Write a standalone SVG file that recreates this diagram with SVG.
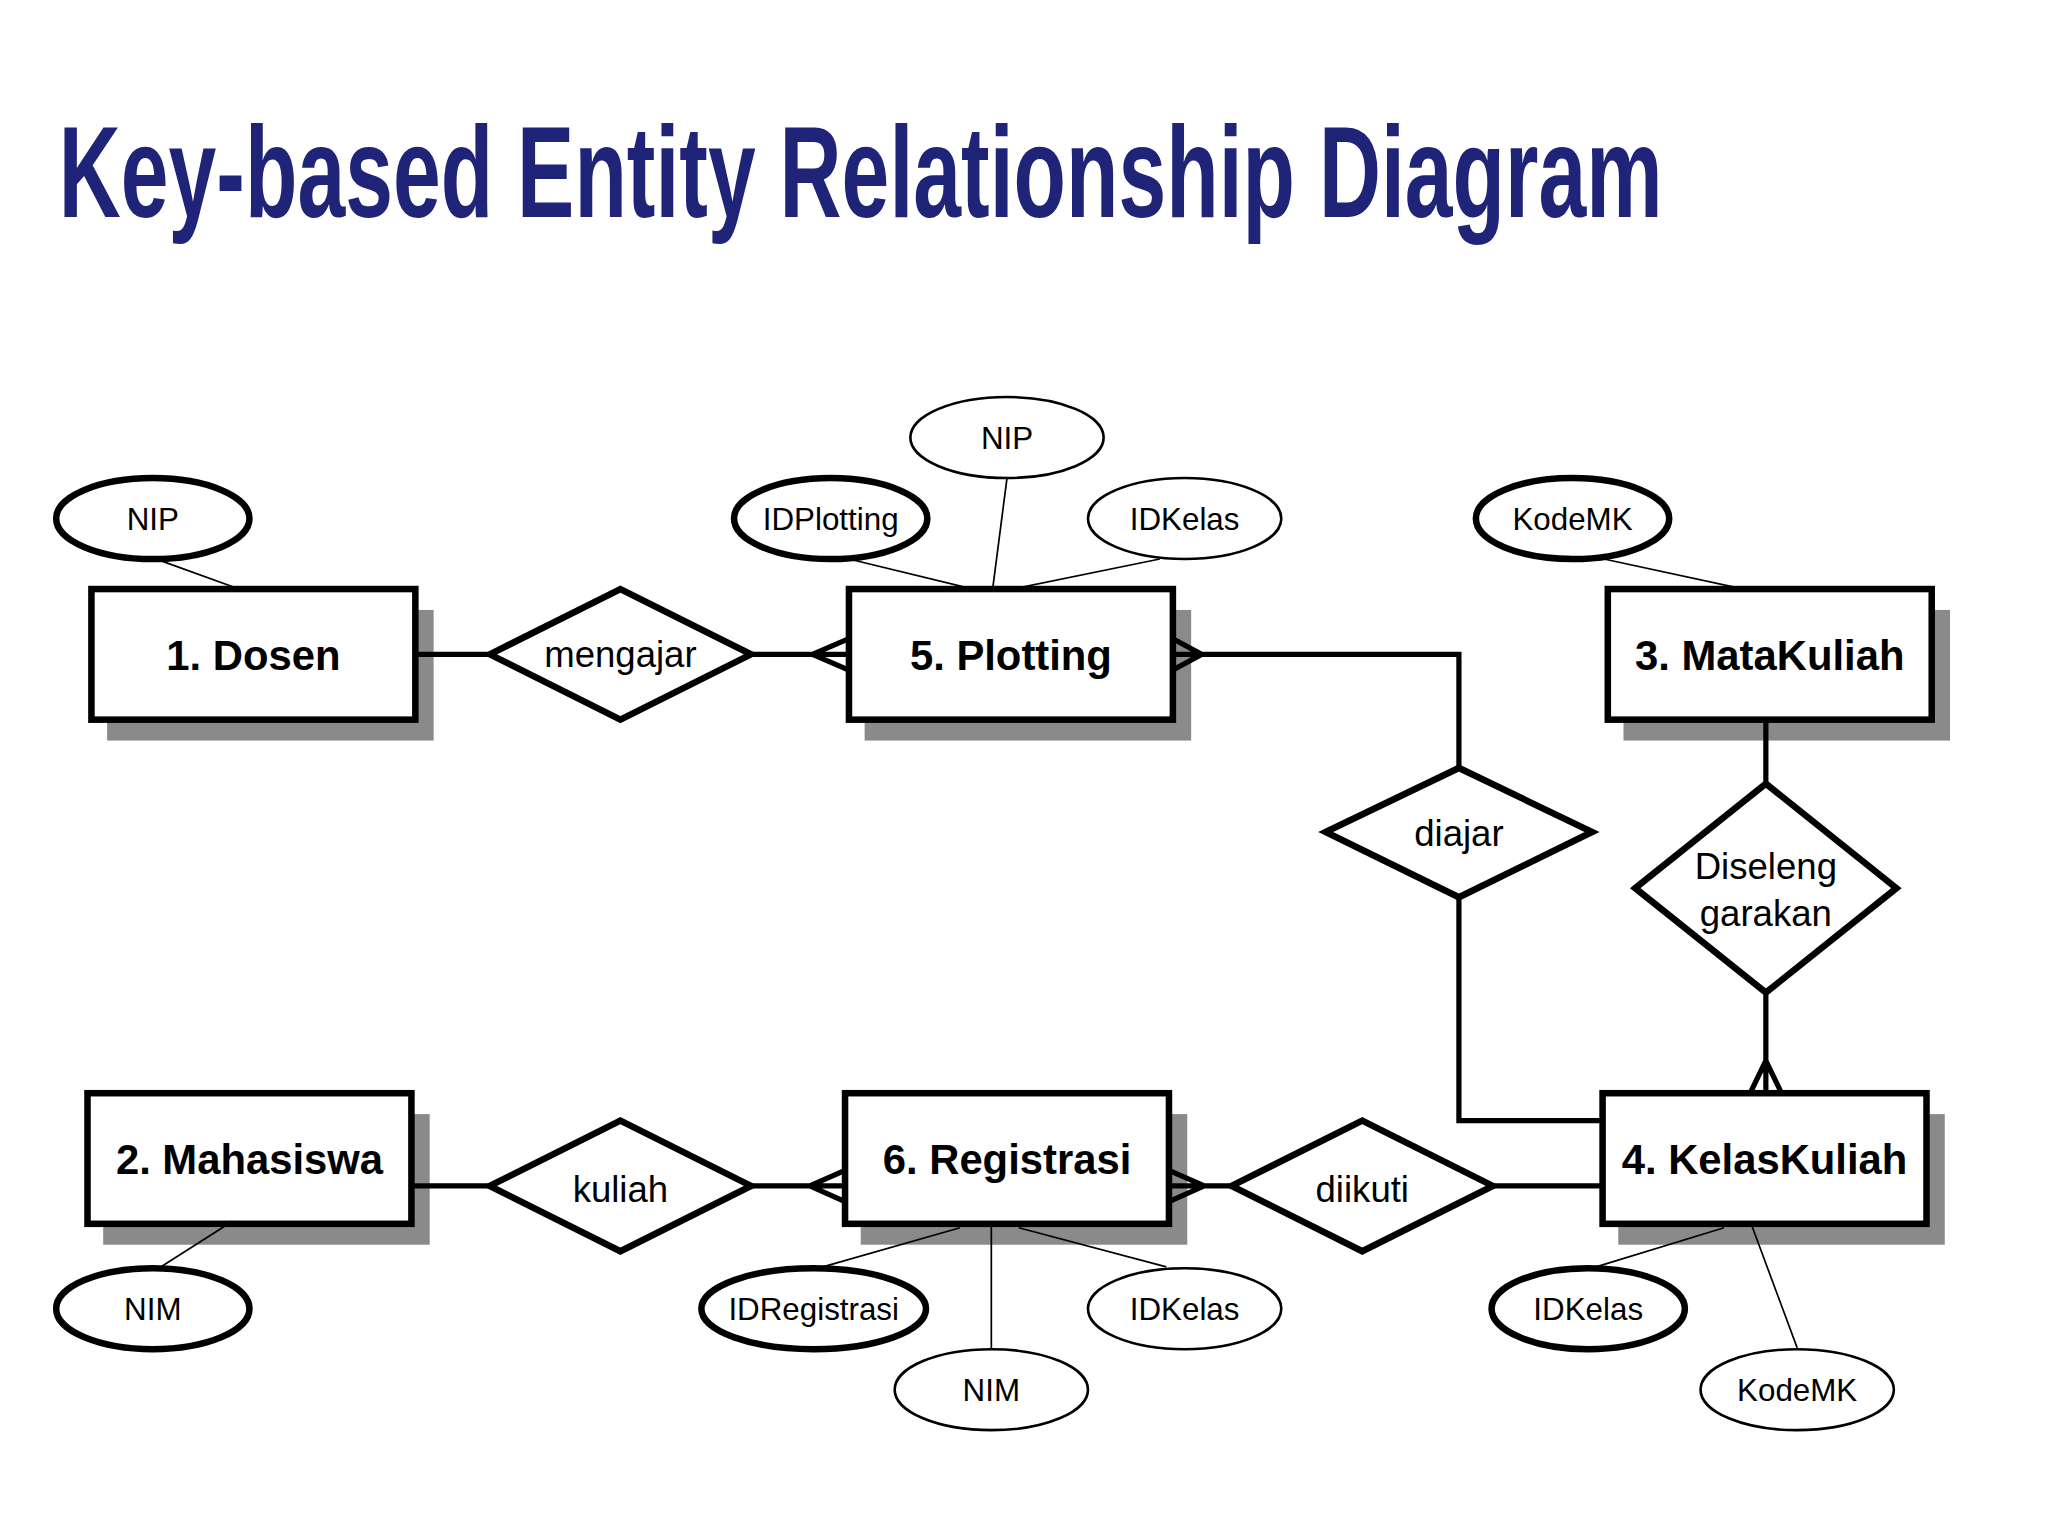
<svg xmlns="http://www.w3.org/2000/svg" width="2048" height="1536" viewBox="0 0 2048 1536">
<style>
.ent{fill:#fff;stroke:#000;stroke-width:5}
.sh{fill:#8a8a8a}
.et{font-family:"Liberation Sans",Arial,sans-serif;font-weight:bold;font-size:32px;text-anchor:middle}
.rel{fill:#fff;stroke:#000;stroke-width:5}
.rt{font-family:"Liberation Sans",Arial,sans-serif;font-size:28px;text-anchor:middle}
.at{font-family:"Liberation Sans",Arial,sans-serif;font-size:24px;text-anchor:middle}
.key{fill:#fff;stroke:#000;stroke-width:5}
.att{fill:#fff;stroke:#000;stroke-width:2}
.c{fill:none;stroke:#000;stroke-width:4}
.a{fill:none;stroke:#000;stroke-width:1.3}
</style>
<rect width="2048" height="1536" fill="#fff"/>
<g transform="scale(1.3061)">
<text x="45" y="166" font-family="Liberation Sans,Arial,sans-serif" font-weight="bold" font-size="100" fill="#1f2478" textLength="1228" lengthAdjust="spacingAndGlyphs">Key-based Entity Relationship Diagram</text>
<g id="dosen"><rect class="sh" x="82" y="467" width="250" height="100"/><rect class="ent" x="70" y="451" width="248" height="100"/><text class="et" x="194" y="513">1. Dosen</text></g>
<g id="plotting"><rect class="sh" x="662" y="467" width="250" height="100"/><rect class="ent" x="650" y="451" width="248" height="100"/><text class="et" x="774" y="513">5. Plotting</text></g>
<g id="matakuliah"><rect class="sh" x="1243" y="467" width="250" height="100"/><rect class="ent" x="1231" y="451" width="248" height="100"/><text class="et" x="1355" y="513">3. MataKuliah</text></g>
<g id="mahasiswa"><rect class="sh" x="79" y="853" width="250" height="100"/><rect class="ent" x="67" y="837" width="248" height="100"/><text class="et" x="191" y="899">2. Mahasiswa</text></g>
<g id="registrasi"><rect class="sh" x="659" y="853" width="250" height="100"/><rect class="ent" x="647" y="837" width="248" height="100"/><text class="et" x="771" y="899">6. Registrasi</text></g>
<g id="kelaskuliah"><rect class="sh" x="1239" y="853" width="250" height="100"/><rect class="ent" x="1227" y="837" width="248" height="100"/><text class="et" x="1351" y="899">4. KelasKuliah</text></g>
<g id="connectors">
<path class="c" d="M318 501H375M575 501H650M622 501L650 489M622 501L650 513"/>
<path class="c" d="M898 501H1117V588M920 501L898 489M920 501L898 513"/>
<path class="c" d="M1117 687V858H1227"/>
<path class="c" d="M1352 551V600M1352 760V837M1352 812L1340 837M1352 812L1364 837"/>
<path class="c" d="M315 908H375M575 908H647M620 908L647 896M620 908L647 920"/>
<path class="c" d="M895 908H943M922 908L895 896M922 908L895 920M1143 908H1227"/>
<path class="a" d="M125 430L183 451M650 428L745 451M771 366L760 451M888 428L775 451M1228 428L1335 451M178 935L120 972M735 940L630 970M759 937V1032M780 940L893 970M1320 940L1222 970M1340 935L1376 1032"/>
</g>
<g id="mengajar"><polygon class="rel" points="375,501 475,451 575,501 475,551"/><text class="rt" x="475" y="511">mengajar</text></g>
<g id="kuliah"><polygon class="rel" points="375,908 475,858 575,908 475,958"/><text class="rt" x="475" y="920">kuliah</text></g>
<g id="diikuti"><polygon class="rel" points="943,908 1043,858 1143,908 1043,958"/><text class="rt" x="1043" y="920">diikuti</text></g>
<g id="diajar"><polygon class="rel" points="1015,637 1117,588 1219,637 1117,687"/><text class="rt" x="1117" y="648">diajar</text></g>
<g id="diselenggarakan"><polygon class="rel" points="1252,680 1352,600 1452,680 1352,760"/><text class="rt" x="1352" y="673">Diseleng</text><text class="rt" x="1352" y="709">garakan</text></g>
<g id="a-dosen-nip"><ellipse class="key" cx="117" cy="397" rx="74" ry="31"/><text class="at" x="117" y="406">NIP</text></g>
<g id="a-idplotting"><ellipse class="key" cx="636" cy="397" rx="74" ry="31"/><text class="at" x="636" y="406">IDPlotting</text></g>
<g id="a-plot-nip"><ellipse class="att" cx="771" cy="335" rx="74" ry="31"/><text class="at" x="771" y="344">NIP</text></g>
<g id="a-plot-idkelas"><ellipse class="att" cx="907" cy="397" rx="74" ry="31"/><text class="at" x="907" y="406">IDKelas</text></g>
<g id="a-kodemk"><ellipse class="key" cx="1204" cy="397" rx="74" ry="31"/><text class="at" x="1204" y="406">KodeMK</text></g>
<g id="a-nim"><ellipse class="key" cx="117" cy="1002" rx="74" ry="31"/><text class="at" x="117" y="1011">NIM</text></g>
<g id="a-idregistrasi"><ellipse class="key" cx="623" cy="1002" rx="86" ry="31"/><text class="at" x="623" y="1011">IDRegistrasi</text></g>
<g id="a-reg-nim"><ellipse class="att" cx="759" cy="1064" rx="74" ry="31"/><text class="at" x="759" y="1073">NIM</text></g>
<g id="a-reg-idkelas"><ellipse class="att" cx="907" cy="1002" rx="74" ry="31"/><text class="at" x="907" y="1011">IDKelas</text></g>
<g id="a-kk-idkelas"><ellipse class="key" cx="1216" cy="1002" rx="74" ry="31"/><text class="at" x="1216" y="1011">IDKelas</text></g>
<g id="a-kk-kodemk"><ellipse class="att" cx="1376" cy="1064" rx="74" ry="31"/><text class="at" x="1376" y="1073">KodeMK</text></g>
</g>
</svg>
